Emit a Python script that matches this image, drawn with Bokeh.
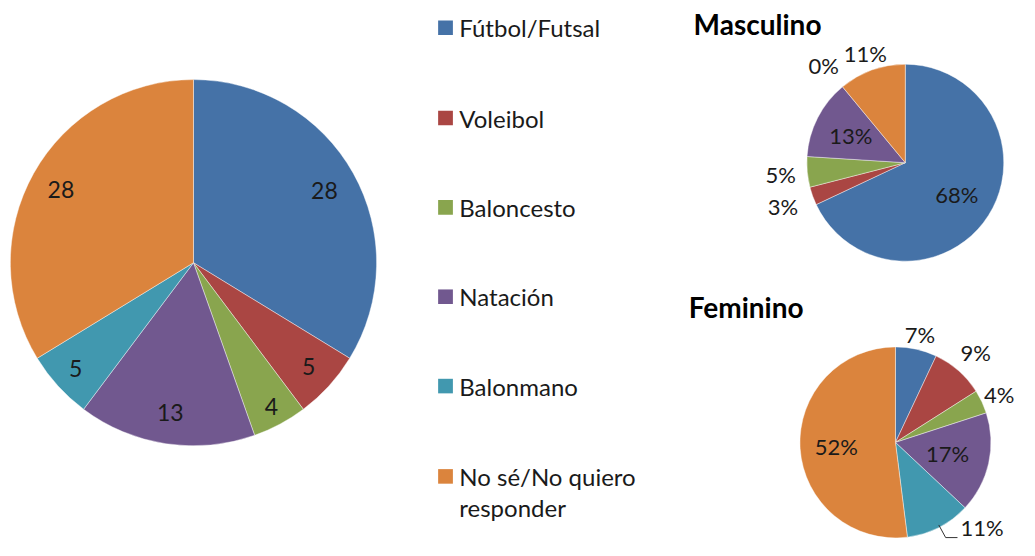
import math
from bokeh.plotting import figure
from bokeh.models import Range1d, ColumnDataSource
from bokeh.core.properties import value
from bokeh.embed import file_html
from bokeh.resources import INLINE

# ---------------- data ----------------
categories = ["Fútbol/Futsal", "Voleibol", "Baloncesto", "Natación", "Balonmano",
              "No sé/No quiero responder"]
legend_lines = [["Fútbol/Futsal"], ["Voleibol"], ["Baloncesto"], ["Natación"], ["Balonmano"],
                ["No sé/No quiero", "responder"]]
total_counts = [28, 5, 4, 13, 5, 28]
masculino_pct = [68, 3, 5, 13, 0, 11]
femenino_pct = [7, 9, 4, 17, 11, 52]
colors = ["#4572A7", "#AA4643", "#89A54E", "#71588F", "#4198AF", "#DB843D"]

# ---------------- layout / style ----------------
W, H = 1019, 540
FONT = "Lato"
TXT = "#1a1a1a"


def Y(sy):
    return 556 - sy


p = figure(width=W, height=H, x_range=Range1d(0, 1035), y_range=Range1d(0, 556),
           x_axis_type=None, y_axis_type=None, toolbar_location=None,
           output_backend="svg", min_border=0)
p.grid.visible = False
p.outline_line_color = None
p.background_fill_color = "white"


def draw_pie(cx, cy, r, vals, texts, label_rf, font_size="23px", skip_labels=()):
    total = float(sum(vals))
    cum = 0.0
    xs, ys, a0s, a1s, cols = [], [], [], [], []
    lx, ly, lt = [], [], []
    for i, v in enumerate(vals):
        a0 = math.pi / 2 - 2 * math.pi * cum / total
        a1 = math.pi / 2 - 2 * math.pi * (cum + v) / total
        mid = (a0 + a1) / 2
        if v > 0:
            xs.append(cx); ys.append(Y(cy)); a0s.append(a0); a1s.append(a1); cols.append(colors[i])
        if i not in skip_labels:
            rf = label_rf[i]
            lx.append(cx + rf * r * math.cos(mid))
            ly.append(Y(cy) + rf * r * math.sin(mid))
            lt.append(texts[i])
        cum += v
    src = ColumnDataSource(dict(x=xs, y=ys, a0=a0s, a1=a1s, c=cols))
    p.wedge(x="x", y="y", radius=r, start_angle="a0", end_angle="a1", direction="clock",
            fill_color="c", line_color="white", line_width=0.6, line_alpha=0.7, source=src)
    lsrc = ColumnDataSource(dict(x=lx, y=ly, t=lt))
    p.text(x="x", y="y", text="t", source=lsrc, text_align="center", text_baseline="middle",
           text_font=value(FONT), text_font_size=font_size, text_color=TXT)


# main pie
draw_pie(196, 270, 186, total_counts, [str(v) for v in total_counts],
         [0.82, 0.85, 0.9, 0.84, 0.87, 0.83])

# Masculino
draw_pie(919, 167, 100, masculino_pct, [f"{v}%" for v in masculino_pct],
         [0.62, 1.32, 1.27, 0.62, 1.3, 1.2], font_size="22px")

# Feminino
draw_pie(909, 455, 97, femenino_pct, [f"{v}%" for v in femenino_pct],
         [1.17, 1.27, 1.2, 0.56, 1.0, 0.62], font_size="22px", skip_labels=(4,))

# Feminino Balonmano label with leader line (outside)
p.line(x=[953, 960, 972], y=[Y(540), Y(553), Y(553)], line_color="#333333", line_width=1)
p.text(x=[997], y=[Y(556)], text=[f"{femenino_pct[4]}%"], text_align="center",
       text_baseline="bottom", text_font=value(FONT), text_font_size="22px", text_color=TXT)

# titles
p.text(x=[704], y=[Y(24)], text=["Masculino"], text_align="left", text_baseline="middle",
       text_font=value(FONT), text_font_size="28px", text_font_style="bold", text_color="black")
p.text(x=[699], y=[Y(316)], text=["Feminino"], text_align="left", text_baseline="middle",
       text_font=value(FONT), text_font_size="28px", text_font_style="bold", text_color="black")

# legend
row_y = [28, 121, 213, 305, 397, 490]
for i, lines in enumerate(legend_lines):
    yy = row_y[i]
    p.rect(x=[452], y=[Y(yy)], width=15, height=15, fill_color=colors[i], line_color=None)
    for j, t in enumerate(lines):
        p.text(x=[466], y=[Y(yy + 32 * j)], text=[t], text_align="left", text_baseline="middle",
               text_font=value(FONT), text_font_size="24px", text_color=TXT)

open("out.html", "w").write(file_html(p, INLINE))
